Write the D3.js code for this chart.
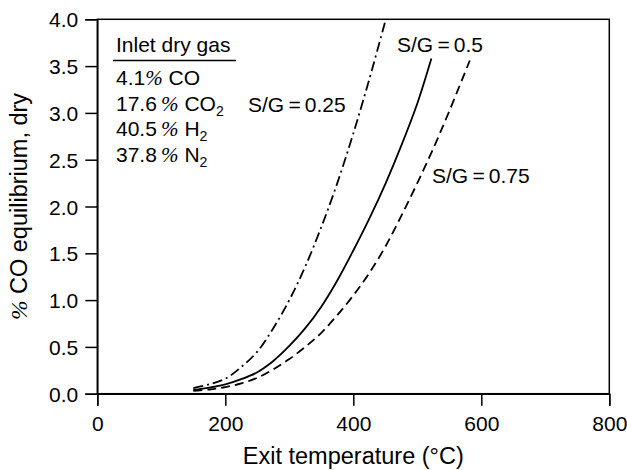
<!DOCTYPE html>
<html><head><meta charset="utf-8">
<script src="https://d3js.org/d3.v7.min.js"></script>
<style>body{margin:0;background:#fff}svg{display:block}text{font-family:"Liberation Sans",Arial,sans-serif;fill:#000}</style>
</head><body>
<script>
const xTicks = [0, 200, 400, 600, 800];
const yTicks = [0.0, 0.5, 1.0, 1.5, 2.0, 2.5, 3.0, 3.5, 4.0];
const tempSG025 = [150, 175, 200, 225, 250, 275, 300, 325, 350, 375, 400, 425, 450];
const coSG025   = [0.06, 0.10, 0.16, 0.285, 0.45, 0.70, 1.00, 1.36, 1.78, 2.25, 2.78, 3.36, 3.98];
const tempSG05  = [150, 175, 200, 225, 250, 275, 300, 325, 350, 375, 400, 425, 450, 475, 500, 522];
const coSG05    = [0.04, 0.065, 0.10, 0.155, 0.23, 0.35, 0.51, 0.70, 0.93, 1.21, 1.53, 1.87, 2.24, 2.65, 3.10, 3.58];
const tempSG075 = [150, 175, 200, 225, 250, 275, 300, 325, 350, 375, 400, 425, 450, 475, 500, 525, 550, 582];
const coSG075   = [0.03, 0.045, 0.07, 0.11, 0.17, 0.26, 0.37, 0.50, 0.65, 0.84, 1.05, 1.29, 1.57, 1.90, 2.25, 2.62, 3.02, 3.56];
const seriesNames = ["S/G\u2009=\u20090.25", "S/G\u2009=\u20090.5", "S/G\u2009=\u20090.75"];
const inletLines = [["4.1", "CO", ""], ["17.6", "CO", "2"], ["40.5", "H", "2"], ["37.8", "N", "2"]];

const W = 627, H = 470;
const svg = d3.select("body").append("svg").attr("width", W).attr("height", H);
const x = d3.scaleLinear().domain([0, 800]).range([97.3, 609.3]);
const y = d3.scaleLinear().domain([0, 4]).range([393.7, 19.3]);
const fs = 21, fsTitle = 23.5;

// frame
svg.append("rect").attr("x", x(0)).attr("y", y(4)).attr("width", x(800) - x(0)).attr("height", y(0) - y(4))
  .attr("fill", "none").attr("stroke", "#000").attr("stroke-width", 1.5);

const xAxis = svg.append("g").attr("transform", `translate(0,${y(0)})`)
  .call(d3.axisBottom(x).tickValues(xTicks).tickSize(12).tickPadding(4).tickFormat(d3.format("d")));
const yAxis = svg.append("g").attr("transform", `translate(${x(0)},0)`)
  .call(d3.axisLeft(y).tickValues(yTicks).tickSize(12).tickPadding(7).tickFormat(d3.format(".1f")));
[xAxis, yAxis].forEach(g => {
  g.select(".domain").attr("stroke-width", 1.5).attr("stroke", "#000");
  g.selectAll(".tick line").attr("stroke-width", 1.5).attr("stroke", "#000");
  g.selectAll(".tick text").attr("font-size", fs).attr("font-family", "Liberation Sans, Arial, sans-serif").attr("fill", "#000");
});
xAxis.selectAll(".tick text").attr("dy", "1em");
yAxis.selectAll(".tick text").attr("dy", "0.36em");

// axis titles
svg.append("text").attr("x", x(400)).attr("y", 464).attr("text-anchor", "middle").attr("font-size", fsTitle)
  .text("Exit temperature (\u00B0C)");
const yl = svg.append("text").attr("transform", `translate(27,${(y(0) + y(4)) / 2}) rotate(-90)`).attr("text-anchor", "middle")
  .attr("font-size", fsTitle);
yl.append("tspan").attr("font-style", "italic").attr("font-family", "Liberation Serif, serif").text("%");
yl.append("tspan").text(" CO equilibrium, dry");

// curves
const line = d3.line().x(d => x(d[0])).y(d => y(d[1])).curve(d3.curveCatmullRom.alpha(0.5));
const series = [
  {t: tempSG025, v: coSG025, dash: "10,4,2,4"},
  {t: tempSG05, v: coSG05, dash: null},
  {t: tempSG075, v: coSG075, dash: "9,5"}
];
series.forEach(s => {
  svg.append("path").datum(d3.zip(s.t, s.v)).attr("d", line).attr("fill", "none")
    .attr("stroke", "#000").attr("stroke-width", 1.8).attr("stroke-dasharray", s.dash);
});

// curve labels
const labelPos = [[248, 112], [397, 52], [432, 183]];
seriesNames.forEach((n, i) => {
  svg.append("text").attr("x", labelPos[i][0]).attr("y", labelPos[i][1]).attr("font-size", fs).text(n);
});

// inlet box
svg.append("text").attr("x", 116).attr("y", 52).attr("font-size", fs).text("Inlet dry gas");
svg.append("line").attr("x1", 113).attr("x2", 236).attr("y1", 60.5).attr("y2", 60.5).attr("stroke", "#000").attr("stroke-width", 1.3);
inletLines.forEach((l, i) => {
  const t = svg.append("text").attr("x", 116).attr("y", 85 + i * 25.6).attr("font-size", fs);
  t.append("tspan").text(l[0] + (i ? "\u2009" : ""));
  t.append("tspan").attr("font-style", "italic").attr("font-family", "Liberation Serif, serif").text("%");
  t.append("tspan").text(" " + l[1]);
  if (l[2]) t.append("tspan").attr("font-size", 14).attr("dy", 5).text(l[2]);
});
</script>
</body></html>
